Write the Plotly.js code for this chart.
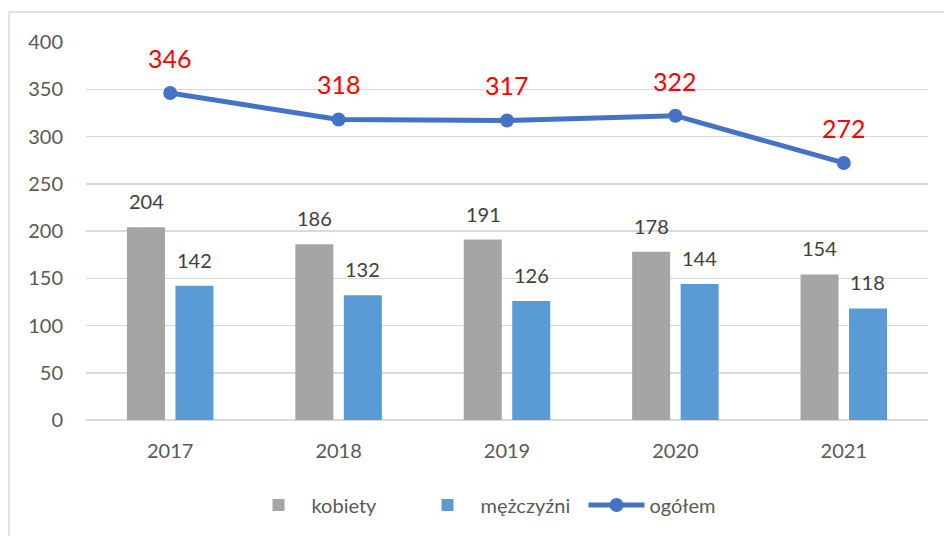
<!DOCTYPE html>
<html><head><meta charset="utf-8">
<script src="https://cdn.plot.ly/plotly-3.0.1.min.js"></script>
<style>html,body{margin:0;padding:0;background:#fff}#c{width:944px;height:536px}</style>
</head><body><div id="c"></div>
<script>
const years = ['2017','2018','2019','2020','2021'];
const kobiety = [204,186,191,178,154];
const mezczyzni = [142,132,126,144,118];
const ogolem = [346,318,317,322,272];
const seriesNames = ['kobiety','mężczyźni','ogółem'];

const F = 'Lato, "Noto Sans", sans-serif';
const traces = [
  {type:'bar', name:seriesNames[0], x:years, y:kobiety, marker:{color:'#A5A5A5'}, hoverinfo:'skip'},
  {type:'bar', name:seriesNames[1], x:years, y:mezczyzni, marker:{color:'#5B9BD5'}, hoverinfo:'skip'},
  {type:'scatter', mode:'lines+markers', name:seriesNames[2], x:years, y:ogolem,
   line:{color:'#4472C4', width:5}, marker:{color:'#4472C4', size:14}, hoverinfo:'skip'}
];
const ann = [];
years.forEach((yr,i)=>{
  ann.push({x:i, y:kobiety[i], xref:'x', yref:'y', text:String(kobiety[i]), showarrow:false, yanchor:'middle', yshift:26, xshift:-24, font:{family:F,size:20,color:'#404040'}});
  ann.push({x:i, y:mezczyzni[i], xref:'x', yref:'y', text:String(mezczyzni[i]), showarrow:false, yanchor:'middle', yshift:26, xshift:24, font:{family:F,size:20,color:'#404040'}});
  ann.push({x:i, y:ogolem[i], xref:'x', yref:'y', text:String(ogolem[i]), showarrow:false, yanchor:'middle', yshift:35, font:{family:F,size:25,color:'#FF0000'}});
});
const layout = {
  width:944, height:536,
  margin:{l:86, r:16, t:42, b:116, pad:0},
  paper_bgcolor:'#fff', plot_bgcolor:'#fff',
  barmode:'group', bargap:0.424, bargroupgap:0.216,
  font:{family:F, size:20, color:'#595959'},
  xaxis:{type:'category', range:[-0.5,4.5], autorange:false, showgrid:false, showline:false, ticks:'', ticklabelstandoff:17, tickfont:{family:F,size:20,color:'#595959'}, fixedrange:true},
  yaxis:{range:[0,400], autorange:false, dtick:50, tick0:0, showgrid:true, gridcolor:'#D9D9D9', gridwidth:1.5, zeroline:true, zerolinecolor:'#D9D9D9', zerolinewidth:1.5, ticks:'', ticklabelstandoff:22, tickfont:{family:F,size:20,color:'#595959'}, fixedrange:true},
  showlegend:true,
  legend:{orientation:'h', x:0.4905, xanchor:'center', y:-0.225, yanchor:'middle', font:{family:F,size:20,color:'#595959'}, itemwidth:56, entrywidth:98, traceorder:'normal'},
  annotations:ann,
  shapes:[{type:'rect', xref:'paper', yref:'paper', x0:-0.0914, x1:1.2, y0:-0.5, y1:1.0794, line:{color:'#D9D9D9', width:1.5}, fillcolor:'rgba(0,0,0,0)', layer:'below'}]
};
Plotly.newPlot('c', traces, layout, {displayModeBar:false, staticPlot:true});
</script></body></html>
